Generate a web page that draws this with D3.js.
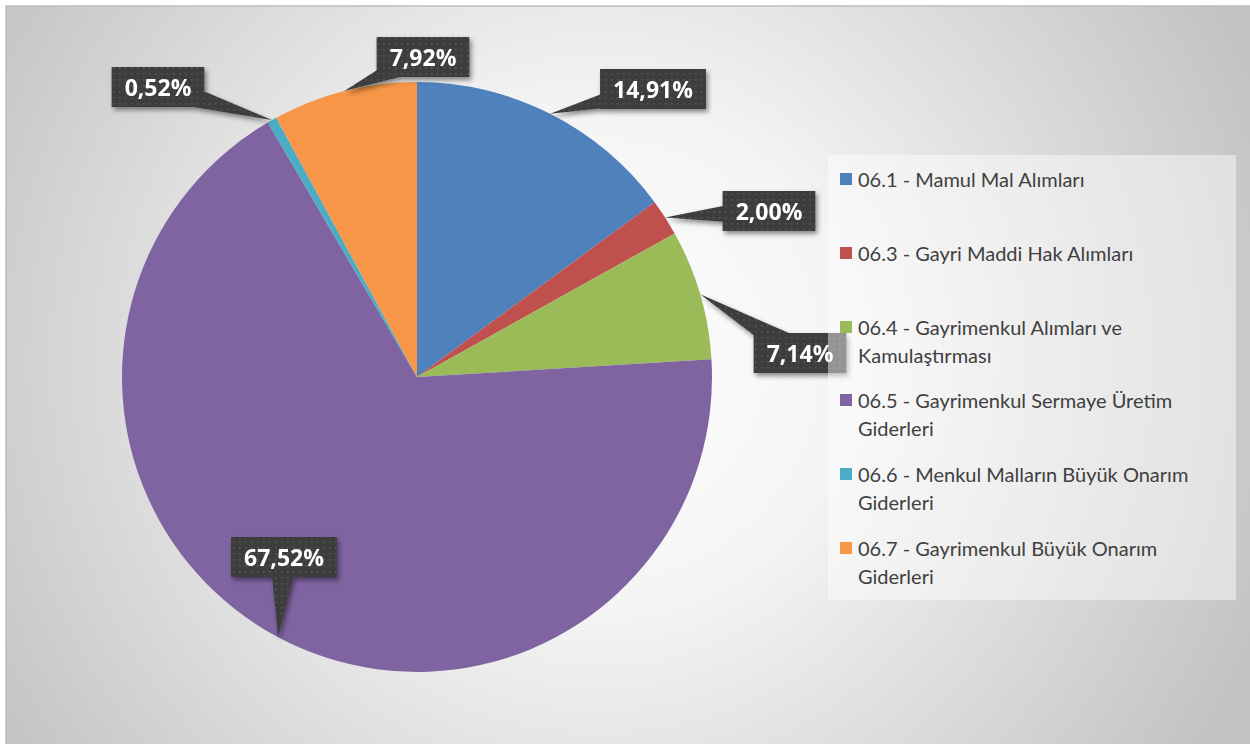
<!DOCTYPE html>
<html><head><meta charset="utf-8">
<script src="https://cdn.jsdelivr.net/npm/d3@7"></script>
<style>html,body{margin:0;padding:0;background:#fff;overflow:hidden}</style>
</head><body>
<svg id="c" width="1250" height="744"></svg>
<script>
const categories = [
  "06.1 - Mamul Mal Alımları",
  "06.3 - Gayri Maddi Hak Alımları",
  "06.4 - Gayrimenkul Alımları ve Kamulaştırması",
  "06.5 - Gayrimenkul Sermaye Üretim Giderleri",
  "06.6 - Menkul Malların Büyük Onarım Giderleri",
  "06.7 - Gayrimenkul Büyük Onarım Giderleri"
];
const legendLines = [
  ["06.1 - Mamul Mal Alımları"],
  ["06.3 - Gayri Maddi Hak Alımları"],
  ["06.4 - Gayrimenkul Alımları ve", "Kamulaştırması"],
  ["06.5 - Gayrimenkul Sermaye Üretim", "Giderleri"],
  ["06.6 - Menkul Malların Büyük Onarım", "Giderleri"],
  ["06.7 - Gayrimenkul Büyük Onarım", "Giderleri"]
];
const values = [14.91, 2.00, 7.14, 67.52, 0.52, 7.92];
const valueLabels = ["14,91%", "2,00%", "7,14%", "67,52%", "0,52%", "7,92%"];
const colors = ["#4F81BD", "#C0504D", "#9BBB59", "#8064A2", "#4BACC6", "#F79646"];

// layout (label box centres relative to pie centre)
const labelOffsets = [[236,-288],[352,-166],[383,-24],[-133,180],[-259,-290],[6,-320]];

const W = 1250, H = 744;
const cx = 417, cy = 377, R = 295;
const svg = d3.select("#c");
const defs = svg.append("defs");

const rg = defs.append("radialGradient").attr("id","bg")
  .attr("gradientUnits","userSpaceOnUse").attr("cx",600).attr("cy",360).attr("r",720);
rg.append("stop").attr("offset","0").attr("stop-color","#ffffff");
rg.append("stop").attr("offset","0.35").attr("stop-color","#f4f4f4");
rg.append("stop").attr("offset","1").attr("stop-color","#c2c2c2");

const pat = defs.append("pattern").attr("id","dots").attr("patternUnits","userSpaceOnUse")
  .attr("width",6).attr("height",6);
pat.append("rect").attr("width",6).attr("height",6).attr("fill","#3c3c3c");
pat.append("rect").attr("x",2).attr("y",2).attr("width",1.6).attr("height",1.6).attr("fill","#575757");

const sh = defs.append("filter").attr("id","shadow").attr("x","-20%").attr("y","-20%").attr("width","150%").attr("height","160%");
sh.append("feDropShadow").attr("dx",2).attr("dy",3).attr("stdDeviation",2.5).attr("flood-color","#000").attr("flood-opacity",0.45);

svg.append("rect").attr("x",6).attr("y",6).attr("width",W).attr("height",H)
  .attr("fill","url(#bg)").attr("stroke","#bdbdbd").attr("stroke-width",1.5);

const pie = d3.pie().sort(null).value(d => d);
const arcs = pie(values);
const arc = d3.arc().innerRadius(0).outerRadius(R);

const g = svg.append("g").attr("transform",`translate(${cx},${cy})`);
g.selectAll("path.slice").data(arcs).join("path").attr("class","slice")
  .attr("d",arc).attr("fill",(d,i)=>colors[i]);

// callouts
const lg = g.append("g").attr("font-family","Open Sans, sans-serif").attr("font-weight","bold");
arcs.forEach((a,i) => {
  const mid = (a.startAngle + a.endAngle)/2;
  const tip = [Math.sin(mid)*R, -Math.cos(mid)*R];
  const [lx, ly] = labelOffsets[i];
  const grp = lg.append("g").attr("filter","url(#shadow)");
  const t = grp.append("text").attr("x",lx).attr("y",ly).attr("text-anchor","middle")
    .attr("dominant-baseline","central").attr("font-size",23).attr("fill","#fff").text(valueLabels[i]);
  const tw = t.node().getComputedTextLength();
  const bw = tw + 26, bh = 40;
  const dx = tip[0]-lx, dy = tip[1]-ly, len = Math.hypot(dx,dy);
  const px = -dy/len*14, py = dx/len*14;
  grp.insert("path","text").attr("d",`M${lx+px},${ly+py}L${tip[0]},${tip[1]}L${lx-px},${ly-py}Z`).attr("fill","url(#dots)");
  grp.insert("rect","text").attr("x",lx-bw/2).attr("y",ly-bh/2).attr("width",bw).attr("height",bh).attr("fill","url(#dots)");
});

// legend
const leg = svg.append("g");
leg.append("rect").attr("x",828).attr("y",155).attr("width",408).attr("height",445)
  .attr("fill","#ffffff").attr("fill-opacity",0.45);
const entryY = [179, 253, 327, 400, 474, 548];
legendLines.forEach((lines,i) => {
  leg.append("rect").attr("x",840).attr("y",entryY[i]-6).attr("width",12).attr("height",12).attr("fill",colors[i]);
  lines.forEach((ln,j) => {
    leg.append("text").attr("x",858).attr("y",entryY[i]+j*28).attr("dominant-baseline","central")
      .attr("font-family","Lato, sans-serif").attr("font-size",20).attr("fill","#404040").text(ln);
  });
});
</script>
</body></html>
